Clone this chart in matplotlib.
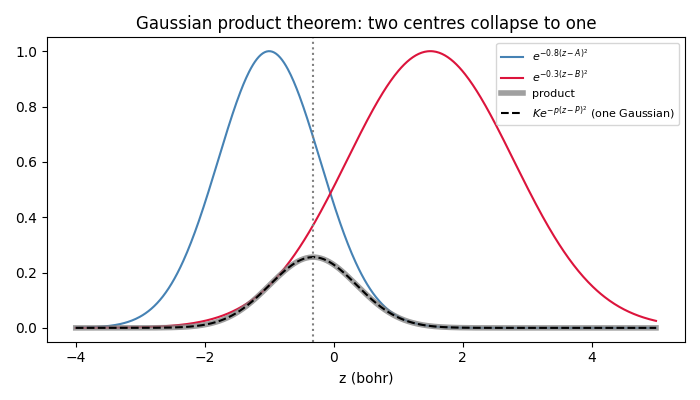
import numpy as np
import matplotlib
matplotlib.use("Agg")
import matplotlib.pyplot as plt

alpha = 0.8
beta = 0.3
A = -1.0
B = 1.5
z_range = [-4.0, 5.0]

p = alpha + beta
P = (alpha * A + beta * B) / p
K = np.exp(-alpha * beta / p * (A - B) ** 2)

z = np.linspace(z_range[0], z_range[1], 600)
g1 = np.exp(-alpha * (z - A) ** 2)
g2 = np.exp(-beta * (z - B) ** 2)
prod = g1 * g2
single = K * np.exp(-p * (z - P) ** 2)

fig, ax = plt.subplots(figsize=(7, 4), dpi=100)
ax.plot(z, g1, color="steelblue", lw=1.5, label=r"$e^{-0.8(z-A)^2}$")
ax.plot(z, g2, color="crimson", lw=1.5, label=r"$e^{-0.3(z-B)^2}$")
ax.plot(z, prod, color="gray", lw=4, alpha=0.75, label="product")
ax.plot(z, single, "k--", lw=1.5, label=r"$Ke^{-p(z-P)^2}$ (one Gaussian)")
ax.axvline(P, color="gray", ls=":", lw=1.5)
ax.set_xlabel("z (bohr)")
ax.set_title("Gaussian product theorem: two centres collapse to one")
ax.legend(fontsize=8, loc="upper right")
fig.tight_layout()
fig.savefig("out.png")
